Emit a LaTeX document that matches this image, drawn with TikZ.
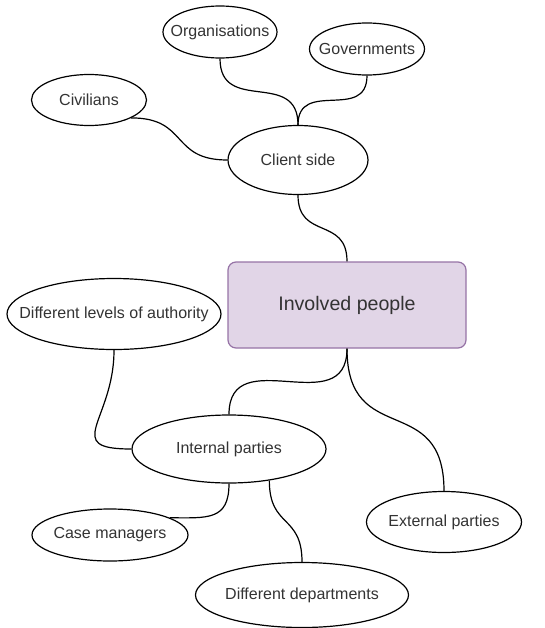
\documentclass[tikz,border=0pt]{standalone}
\usepackage{fontspec}
\setmainfont{Liberation Sans}
\usepackage{tikz}
\usetikzlibrary{shapes.geometric}

\definecolor{lilacfill}{HTML}{E1D5E7}
\definecolor{lilacdraw}{HTML}{9673A6}
\newcommand{\bubtext}[1]{\makebox[0pt]{#1}}

\tikzset{
  bubble/.style 2 args={draw, ellipse, line width=0.9pt, fill=white, text=black!80,
    inner sep=0pt, minimum width=#1*0.75pt, minimum height=#2*0.75pt, font=\fontsize{12}{14}\selectfont},
  hub/.style={draw=lilacdraw, fill=lilacfill, rounded corners=6pt, line width=0.9pt, text=black!80,
    minimum width=178.5pt, minimum height=64.5pt, font=\fontsize{14.7}{17}\selectfont},
  link/.style={line width=0.9pt, looseness=1.4}
}

\begin{document}
\begin{tikzpicture}[x=0.75pt,y=0.75pt,yscale=-1]
\useasboundingbox (0,0) rectangle (545,628);

% Text Node
\node [hub] (involved) at (347,305) {Involved people};
% Text Node
\node [bubble={140}{69}] (client) at (298,160) {\bubtext{Client side}};
% Text Node
\node [bubble={114}{52}] (orgs) at (220,32) {\bubtext{Organisations}};
% Text Node
\node [bubble={115}{52}] (govs) at (367,49) {\bubtext{Governments}};
% Text Node
\node [bubble={115}{51}] (civs) at (89,100) {\bubtext{Civilians}};
% Text Node
\node [bubble={214}{71}] (levels) at (114,314) {\bubtext{Different levels of authority}};
% Text Node
\node [bubble={194}{68}] (internal) at (229,449) {\bubtext{Internal parties}};
% Text Node
\node [bubble={156}{52}] (casemgr) at (110,535) {\bubtext{Case managers}};
% Text Node
\node [bubble={155}{61}] (external) at (444,522) {\bubtext{External parties}};
% Text Node
\node [bubble={213}{65}] (depts) at (302,595) {\bubtext{Different departments}};

% Connection
\draw [link] (orgs.south) to[out=90,in=-90] (client.north);
% Connection
\draw [link] (govs.south) to[out=90,in=-90] (client.north);
% Connection
\draw [link] (civs.-23) to[out=0,in=180] (client.west);
% Connection
\draw [link] (client.south) to[out=90,in=-90] (involved.north);
% Connection
\draw [link] (involved.south) to[out=90,in=-90] (internal.north);
% Connection
\draw [link] (involved.south) to[out=90,in=-90,looseness=1.5] (external.north);
% Connection
\draw [link] (levels.south) to[out=90,in=180,looseness=1.8] (internal.west);
% Connection
\draw [link] (internal.south) to[out=90,in=0] (casemgr.16);
% Connection
\draw [link] (internal.-38) to[out=90,in=-90] (depts.north);

\end{tikzpicture}
\end{document}
